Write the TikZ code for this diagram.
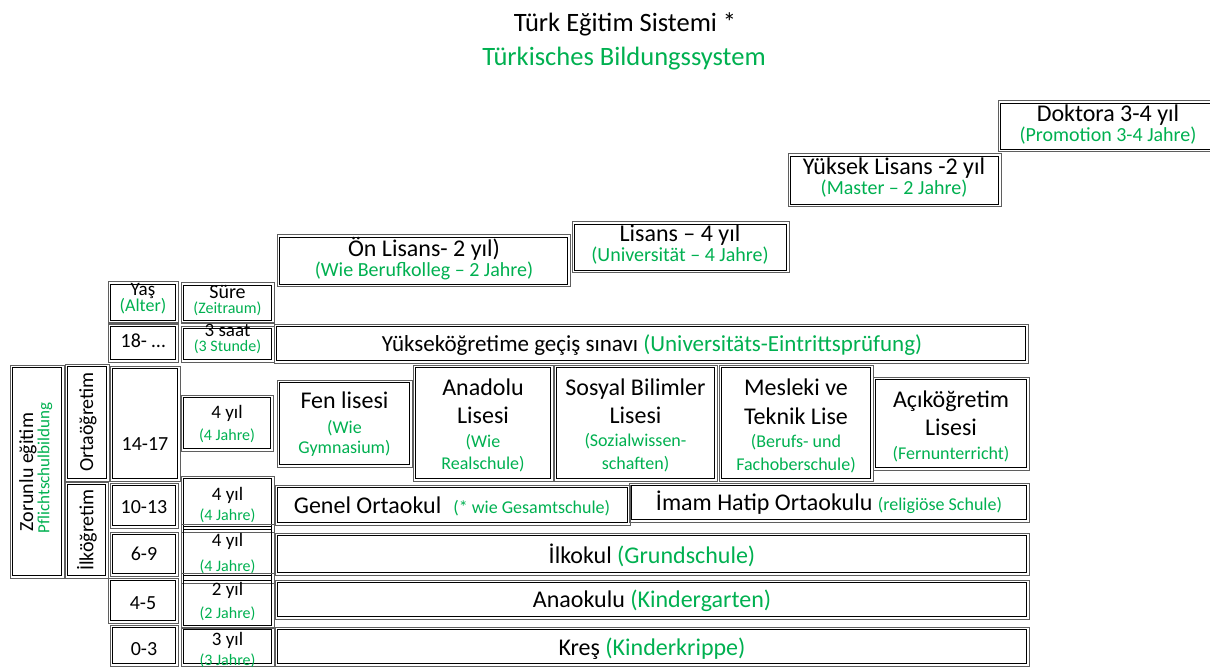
\documentclass[tikz,border=0pt]{standalone}
\usepackage{fontspec}
\setmainfont{Carlito}
\definecolor{tgreen}{RGB}{0,176,80}
\definecolor{framegray}{RGB}{95,95,95}
\newcommand\fs[1]{\fontsize{#1}{#1}\selectfont}
\tikzset{
  boxouter/.style={rectangle, draw=framegray, line width=1pt, inner sep=0pt, outer sep=0pt},
  boxinner/.style={draw=black, line width=0.9pt},
  lbl/.style={anchor=base, inner sep=0pt, outer sep=0pt},
  titlebk/.style={lbl, font=\fs{26.5}},
  titlegr/.style={lbl, font=\fs{26.5}, text=tgreen},
  bigbk/.style={lbl, font=\fs{24}},
  hisub/.style={lbl, font=\fs{20}, text=tgreen},
  lisegr/.style={lbl, font=\fs{18}, text=tgreen},
  colbk/.style={lbl, font=\fs{20}},
  colsm/.style={lbl, font=\fs{19}},
  colgr/.style={lbl, font=\fs{16}, text=tgreen},
  vert/.style={anchor=center, inner sep=0pt, rotate=90, font=\fs{20}},
}
% double-framed box: gray outer frame, black inner frame
\newcommand\bx[5]{%
  \node[boxouter, minimum width={#4-#2}, minimum height={#5-#3}] (#1) at ({(#2+#4)/2},{(#3+#5)/2}) {};
  \draw[boxinner] ([shift={(2.3pt,2.3pt)}]#1.south west) rectangle ([shift={(-2.3pt,-2.3pt)}]#1.north east);}
% one line of text, placed on its baseline
\newcommand\tx[5]{\node[#4] (#1) at (#2,#3) {#5};}
\begin{document}
\begin{tikzpicture}[x=1pt,y=-1pt]
\useasboundingbox (0,0) rectangle (1210,668);

% title
\tx{title}{625}{32}{titlebk}{Türk Eğitim Sistemi *}
\tx{titlede}{624}{66}{titlegr}{Türkisches Bildungssystem}

% higher education
\bx{onlisans}{277}{235}{570}{287}
\tx{onlisansA}{424}{257}{bigbk}{Ön Lisans- 2 yıl)}
\tx{onlisansB}{424}{277}{hisub}{(Wie Berufkolleg – 2 Jahre)}
\bx{lisans}{572}{222}{789}{273}
\tx{lisansA}{680}{242}{bigbk}{Lisans – 4 yıl}
\tx{lisansB}{680}{262}{hisub}{(Universität – 4 Jahre)}
\bx{ylisans}{788}{154}{1001}{207}
\tx{ylisansA}{894}{175}{bigbk}{Yüksek Lisans -2 yıl}
\tx{ylisansB}{894}{195}{hisub}{(Master – 2 Jahre)}
\bx{doktora}{998}{101}{1218}{152}
\tx{doktoraA}{1108}{122}{bigbk}{Doktora 3-4 yıl}
\tx{doktoraB}{1108}{142}{hisub}{(Promotion 3-4 Jahre)}

% age and duration column
\bx{yas}{108}{282}{178}{323}
\tx{yasA}{143}{296}{colsm}{Yaş}
\tx{yasB}{143}{312}{lbl,font=\fs{18},text=tgreen}{(Alter)}
\bx{sure}{181}{283}{274}{323}
\tx{sureA}{227.5}{299}{colbk}{Süre}
\tx{sureB}{227.5}{314}{colgr}{(Zeitraum)}
\bx{age18}{108}{324}{178}{362}
\tx{age18t}{143}{348}{colbk}{18- …}
\bx{dur18}{181}{326}{274}{362}
\tx{dur18A}{227.5}{337}{colsm}{3 saat}
\tx{dur18B}{227.5}{352}{colgr}{(3 Stunde)}

\bx{zorunlu}{10}{365}{64}{578}
\node[vert] (zorunluA) at (28,472) {Zorunlu eğitim};
\node[vert, font=\fs{17}, text=tgreen] (zorunluB) at (45,468) {Pflichtschulbildung};
\bx{orta}{65}{364}{109}{481}
\node[vert] (ortaT) at (88,422) {Ortaöğretim};
\bx{ilkog}{65}{482}{108}{578}
\node[vert] (ilkogT) at (87,530) {İlköğretim};

\bx{age14}{110}{366}{180}{481}
\tx{age14t}{145}{450}{colbk}{14-17}
\bx{dur14}{181}{395}{273}{451}
\tx{dur14A}{227}{418}{colsm}{4 yıl}
\tx{dur14B}{227}{440}{colgr}{(4 Jahre)}
\bx{age10}{110}{483}{178}{528}
\tx{age10t}{144}{513}{colbk}{10-13}
\bx{dur10}{181}{476}{274}{532}
\tx{dur10A}{227.5}{500}{colsm}{4 yıl}
\tx{dur10B}{227.5}{520}{colgr}{(4 Jahre)}
\bx{age6}{110}{532}{178}{576}
\tx{age6t}{144}{560}{colbk}{6-9}
\bx{dur6}{181}{524}{274}{583}
\tx{dur6A}{227.5}{546}{colsm}{4 yıl}
\tx{dur6B}{227.5}{571}{colgr}{(4 Jahre)}
\bx{age4}{108}{578}{178}{623}
\tx{age4t}{143}{609}{colbk}{4-5}
\bx{dur4}{181}{573}{274}{628}
\tx{dur4A}{227.5}{595}{colsm}{2 yıl}
\tx{dur4B}{227.5}{618}{colgr}{(2 Jahre)}
\bx{age0}{110}{625}{178}{666}
\tx{age0t}{144}{655}{colbk}{0-3}
\bx{dur0}{181}{627}{274}{666}
\tx{dur0A}{227.5}{645}{colsm}{3 yıl}
\tx{dur0B}{227.5}{665}{colgr}{(3 Jahre)}

% entrance exam
\bx{sinav}{274}{324}{1028}{363}
\tx{sinavT}{652}{351}{lbl,font=\fs{23}}{Yükseköğretime geçiş sınavı \textcolor{tgreen}{(Universitäts-Eintrittsprüfung)}}

% secondary schools
\bx{fen}{277}{380}{412}{467}
\tx{fenA}{344.5}{408}{bigbk}{Fen lisesi}
\tx{fenB}{344.5}{433}{lisegr}{(Wie}
\tx{fenC}{344.5}{453}{lisegr}{Gymnasium)}
\bx{anadolu}{413}{365}{553}{481}
\tx{anadoluA}{483}{395}{bigbk}{Anadolu}
\tx{anadoluB}{483}{423}{bigbk}{Lisesi}
\tx{anadoluC}{483}{447}{lisegr}{(Wie}
\tx{anadoluD}{483}{469}{lisegr}{Realschule)}
\bx{sosyal}{554}{365}{717}{481}
\tx{sosyalA}{635.5}{395}{bigbk}{Sosyal Bilimler}
\tx{sosyalB}{635.5}{423}{bigbk}{Lisesi}
\tx{sosyalC}{635.5}{446}{lisegr}{(Sozialwissen-}
\tx{sosyalD}{635.5}{469}{lisegr}{schaften)}
\bx{mesleki}{719}{365}{873}{481}
\tx{meslekiA}{796}{395}{bigbk}{Mesleki ve}
\tx{meslekiB}{796}{424}{bigbk}{Teknik Lise}
\tx{meslekiC}{796}{447}{lisegr}{(Berufs- und}
\tx{meslekiD}{796}{470}{lisegr}{Fachoberschule)}
\bx{acik}{873}{377}{1029}{470}
\tx{acikA}{951}{407}{bigbk}{Açıköğretim}
\tx{acikB}{951}{435}{bigbk}{Lisesi}
\tx{acikC}{951}{459}{lisegr}{(Fernunterricht)}

% lower secondary and primary
\bx{genel}{275}{485}{630}{525}
\tx{genelT}{452}{513}{bigbk}{Genel Ortaokul\hspace{0.5em}{\fs{18}\color{tgreen}(* wie Gesamtschule)}}
\bx{imam}{629}{483}{1029}{522}
\tx{imamT}{829}{510}{bigbk}{İmam Hatip Ortaokulu {\fs{18}\color{tgreen}(religiöse Schule)}}
\bx{ilkokul}{275}{533}{1029}{575}
\tx{ilkokulT}{652}{563}{bigbk}{İlkokul \textcolor{tgreen}{(Grundschule)}}
\bx{anaokulu}{275}{580}{1029}{619}
\tx{anaokuluT}{652}{607}{bigbk}{Anaokulu \textcolor{tgreen}{(Kindergarten)}}
\bx{kres}{275}{627}{1029}{666}
\tx{kresT}{652}{655}{bigbk}{Kreş \textcolor{tgreen}{(Kinderkrippe)}}
\end{tikzpicture}
\end{document}
